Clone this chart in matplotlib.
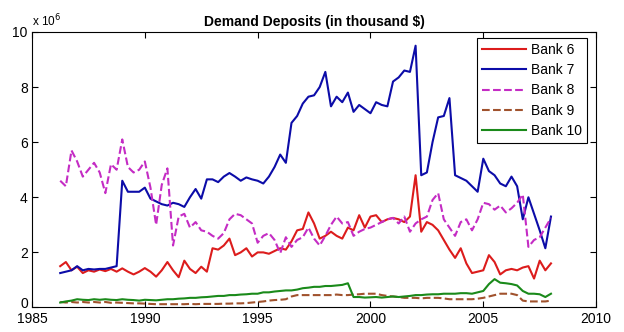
import numpy as np
import matplotlib
matplotlib.use("Agg")
import matplotlib.pyplot as plt
from matplotlib.ticker import MultipleLocator, FuncFormatter

plt.rcParams['font.family'] = ['Liberation Sans', 'DejaVu Sans']

# Quarterly observations, 1986 Q1 .. 2007 Q4 (plotted at quarter ends)
quarters = np.arange(1986.25, 2008.0 + 0.001, 0.25)

# Demand deposits in millions of thousand $ (axis shown with x 10^6 factor)
bank6 = [1.5, 1.65, 1.35, 1.48, 1.25, 1.35, 1.3, 1.38, 1.32, 1.4, 1.3, 1.42,
         1.3, 1.2, 1.3, 1.43, 1.3, 1.12, 1.35, 1.65, 1.35, 1.1, 1.7, 1.4,
         1.25, 1.48, 1.3, 2.15, 2.1, 2.25, 2.5, 1.9, 2.0, 2.15, 1.85, 2.0,
         2.0, 1.95, 2.05, 2.15, 2.1, 2.4, 2.8, 2.85, 3.45, 3.05, 2.5, 2.6,
         2.75, 2.6, 2.5, 2.9, 2.8, 3.35, 2.9, 3.3, 3.35, 3.1, 3.2, 3.25,
         3.2, 3.1, 3.3, 4.8, 2.75, 3.1, 3.0, 2.8, 2.45, 2.1, 1.8, 2.15,
         1.6, 1.25, 1.3, 1.35, 1.9, 1.65, 1.2, 1.35, 1.4, 1.35, 1.45, 1.5,
         1.05, 1.7, 1.35, 1.6]

bank7 = [1.25, 1.3, 1.35, 1.5, 1.35, 1.4, 1.38, 1.4, 1.4, 1.45, 1.5, 4.6,
         4.2, 4.2, 4.2, 4.35, 3.95, 3.85, 3.75, 3.7, 3.8, 3.75, 3.65, 4.0,
         4.3, 3.95, 4.65, 4.65, 4.55, 4.75, 4.88, 4.75, 4.6, 4.72, 4.65, 4.6,
         4.5, 4.75, 5.1, 5.55, 5.25, 6.7, 6.95, 7.4, 7.65, 7.7, 8.0, 8.55,
         7.3, 7.65, 7.45, 7.8, 7.1, 7.35, 7.2, 7.05, 7.45, 7.35, 7.3, 8.2,
         8.35, 8.6, 8.55, 9.5, 4.8, 4.9, 6.0, 6.9, 6.95, 7.6, 4.8, 4.7,
         4.6, 4.4, 4.2, 5.4, 4.95, 4.8, 4.5, 4.4, 4.75, 4.4, 3.2, 4.0,
         3.4, 2.8, 2.15, 3.3]

bank8 = [4.6, 4.4, 5.7, 5.3, 4.75, 5.0, 5.25, 4.9, 4.15, 5.2, 5.0, 6.1,
         5.1, 4.9, 5.0, 5.3, 4.35, 3.0, 4.45, 5.05, 2.25, 3.3, 3.4, 2.9,
         3.1, 2.8, 2.75, 2.6, 2.5, 2.7, 3.2, 3.4, 3.35, 3.2, 3.05, 2.35,
         2.6, 2.7, 2.45, 1.97, 2.55, 2.2, 2.45, 2.55, 2.9, 2.5, 2.25, 2.6,
         3.0, 3.3, 3.05, 3.1, 2.6, 2.75, 2.85, 2.9, 3.0, 3.1, 3.2, 3.25,
         3.05, 3.3, 2.75, 3.05, 3.2, 3.3, 3.9, 4.15, 3.2, 2.9, 2.6, 3.1,
         3.2, 2.8, 3.2, 3.8, 3.75, 3.55, 3.7, 3.45, 3.6, 3.8, 4.1, 2.2,
         2.45, 2.55, 2.9, 3.25]

bank9 = [0.2, 0.18, 0.2, 0.18, 0.2, 0.18, 0.2, 0.18, 0.2, 0.17, 0.18, 0.17,
         0.16, 0.15, 0.15, 0.14, 0.13, 0.12, 0.12, 0.12, 0.12, 0.12, 0.12, 0.13,
         0.12, 0.13, 0.13, 0.13, 0.13, 0.14, 0.14, 0.15, 0.15, 0.16, 0.18, 0.2,
         0.22, 0.25, 0.27, 0.28, 0.3, 0.4, 0.45, 0.45, 0.45, 0.45, 0.45, 0.45,
         0.45, 0.47, 0.45, 0.45, 0.47, 0.48, 0.5, 0.5, 0.5, 0.45, 0.42, 0.4,
         0.38, 0.35, 0.35, 0.35, 0.33, 0.35, 0.35, 0.35, 0.33, 0.3, 0.3, 0.3,
         0.3, 0.3, 0.32, 0.35, 0.4, 0.45, 0.5, 0.5, 0.5, 0.45, 0.25, 0.22,
         0.22, 0.22, 0.22, 0.25]

bank10 = [0.18, 0.22, 0.25, 0.3, 0.28, 0.27, 0.3, 0.28, 0.3, 0.28, 0.27, 0.3,
          0.28, 0.27, 0.25, 0.28, 0.27, 0.26, 0.28, 0.3, 0.3, 0.32, 0.33, 0.35,
          0.35, 0.37, 0.38, 0.4, 0.42, 0.42, 0.45, 0.45, 0.47, 0.48, 0.5, 0.5,
          0.55, 0.55, 0.58, 0.6, 0.62, 0.62, 0.65, 0.7, 0.72, 0.75, 0.75, 0.78,
          0.78, 0.8, 0.82, 0.88, 0.38, 0.38, 0.36, 0.37, 0.38, 0.36, 0.38, 0.4,
          0.38, 0.4, 0.42, 0.45, 0.45, 0.47, 0.48, 0.48, 0.5, 0.5, 0.5, 0.52,
          0.52, 0.5, 0.55, 0.6, 0.85, 1.03, 0.9, 0.88, 0.85, 0.8, 0.6, 0.5,
          0.5, 0.48, 0.38, 0.5]

series = [
    ("Bank 6", bank6, "#dc1c1c", "-"),
    ("Bank 7", bank7, "#0c0ca8", "-"),
    ("Bank 8", bank8, "#c42cc4", "--"),
    ("Bank 9", bank9, "#a0522d", "--"),
    ("Bank 10", bank10, "#1a8a1a", "-"),
]

fig = plt.figure(figsize=(6.24, 3.32), dpi=100)
ax = fig.add_axes([0.0513, 0.0738, 0.904, 0.830])

for label, vals, color, ls in series:
    assert len(vals) == len(quarters)
    ax.plot(quarters, vals, ls, color=color, lw=1.5, label=label)

ax.set_xlim(1985, 2010)
ax.set_ylim(0, 10)
ax.xaxis.set_major_locator(MultipleLocator(5))
ax.yaxis.set_major_locator(MultipleLocator(2))
# the zero label is placed separately, a touch higher, to clear "1985"
ax.yaxis.set_major_formatter(FuncFormatter(lambda v, p: "" if v == 0 else f"{v:g}"))
ax.tick_params(direction='in', length=4, width=0.8, top=True, right=True,
               labelsize=10, colors='black')
ax.tick_params(axis='x', pad=3.5)
ax.tick_params(axis='y', pad=3)
for sp in ax.spines.values():
    sp.set_linewidth(0.8)
ax.annotate("0", xy=(0, 0), xycoords='axes fraction', xytext=(-3, 2.5),
            textcoords='offset points', ha='right', va='center', fontsize=10)

ax.text(0.0, 1.01, r"x 10$^6$", transform=ax.transAxes, fontsize=8.5,
        ha='left', va='bottom')
ax.set_title("Demand Deposits (in thousand $)", fontsize=10, fontweight='bold',
             pad=4)

leg = ax.legend(loc='upper right', bbox_to_anchor=(0.984, 0.978),
                borderaxespad=0, fontsize=10, handlelength=3.2,
                fancybox=False, framealpha=1, edgecolor='black',
                labelspacing=0.45, handletextpad=0.35, borderpad=0.35)
leg.get_frame().set_linewidth(0.8)

fig.savefig("out.png", dpi=100)
